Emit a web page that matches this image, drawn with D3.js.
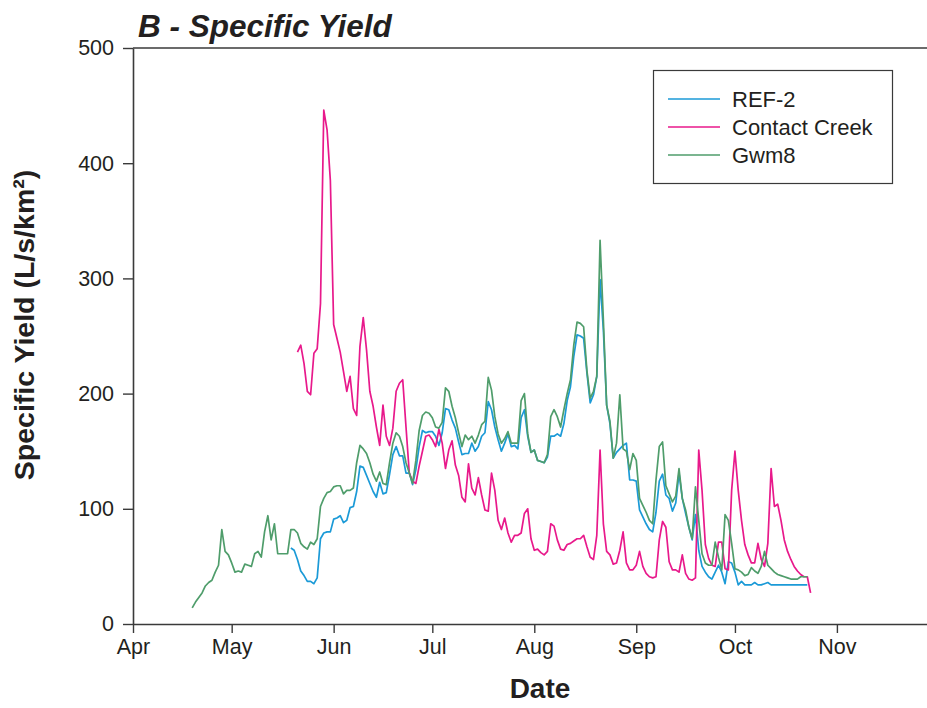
<!DOCTYPE html>
<html><head><meta charset="utf-8">
<script src="https://cdn.jsdelivr.net/npm/d3@7/dist/d3.min.js"></script>
<style>
body{margin:0;background:#fff}
svg{display:block;font-family:"Liberation Sans",Arial,Helvetica,sans-serif}
</style>
</head><body>
<svg id="chart" width="927" height="708"></svg>
<script>
// ---------- data ----------
const seriesNames = ["REF-2", "Contact Creek", "Gwm8"];
const seriesColors = ["#1b9ad7", "#e8198b", "#4f9d6b"];

const ref2Start = "2015-05-19";
const ref2Values = [
  66, 64, 56, 46, 42, 37, 37, 35, 40, 74, 79, 80, 80,
  91, 92, 94, 88, 90, 101, 102, 115, 137, 136, 129, 122, 115, 110, 123, 113, 114, 130, 147, 154, 146, 146, 131, 131, 121, 134, 154, 168, 166, 167,
  167, 163, 155, 166, 187, 186, 177, 170, 158, 147, 148, 148, 157, 150, 154, 163, 166, 193, 186, 171, 160, 150, 157, 165, 154, 155, 152, 179, 186, 163, 149,
  151, 142, 141, 140, 145, 163, 163, 165, 163, 174, 194, 206, 232, 251, 250, 248, 218, 192, 199, 215, 299, 255, 190, 174, 144, 149, 152, 155, 157, 125, 125,
  124, 99, 93, 87, 82, 80, 97, 124, 130, 112, 109, 98, 105, 131, 109, 96, 84, 73, 95, 64, 50, 45, 41, 39, 45, 51, 45, 35, 54, 53,
  45, 34, 37, 34, 34, 34, 36, 34, 34, 35, 36, 34, 34, 34, 34, 34, 34, 34, 34, 34, 34, 34, 34
];

const contactStart = "2015-05-21";
const contactValues = [
  236, 242, 226, 202, 199, 235, 239, 278, 446, 429, 385,
  260, 248, 236, 219, 202, 215, 187, 181, 241, 266, 238, 202, 189, 171, 155, 190, 163, 155, 170, 202, 209, 212, 171, 131, 124, 122, 137, 150, 163, 164,
  160, 154, 169, 157, 135, 151, 159, 138, 129, 110, 106, 139, 118, 112, 127, 112, 99, 98, 131, 116, 90, 82, 92, 79, 71, 77, 77, 79, 96, 100, 74,
  64, 65, 62, 60, 63, 87, 85, 73, 65, 64, 69, 70, 72, 74, 74, 77, 67, 58, 56, 77, 151, 87, 63, 60, 52, 53, 64, 80, 53, 47, 47,
  51, 63, 50, 44, 41, 40, 41, 73, 89, 84, 54, 47, 47, 45, 60, 44, 39, 38, 40, 151, 116, 69, 57, 51, 50, 71, 71, 48, 47, 116,
  150, 116, 90, 69, 60, 53, 53, 70, 56, 50, 70, 135, 102, 104, 90, 73, 63, 56, 50, 46, 43, 41, 41, 27
];

const gwm8Start = "2015-04-19";
const gwm8Values = [
  14, 19, 23, 27, 33, 36, 38, 45, 51, 82, 63, 60,
  53, 45, 46, 45, 52, 51, 50, 61, 63, 58, 80, 94, 73, 87, 61, 61, 61, 61, 82, 82, 79, 70, 67, 65, 71, 69, 74, 102, 109, 114, 115,
  119, 120, 120, 113, 116, 116, 118, 140, 155, 152, 148, 140, 130, 124, 132, 122, 121, 140, 157, 166, 163, 154, 140, 131, 122, 142, 168, 181, 184, 183,
  179, 171, 170, 175, 205, 202, 189, 179, 166, 154, 164, 160, 163, 157, 164, 173, 176, 214, 203, 180, 165, 157, 161, 167, 157, 157, 157, 194, 200, 165, 149,
  151, 142, 141, 140, 147, 180, 186, 180, 171, 186, 200, 212, 242, 262, 261, 258, 220, 196, 202, 215, 333, 264, 190, 176, 144, 157, 199, 152, 150, 134, 148,
  142, 109, 103, 97, 90, 87, 125, 154, 158, 120, 113, 106, 111, 135, 109, 99, 84, 74, 119, 90, 61, 53, 51, 51, 71, 58, 47, 95, 90, 70,
  48, 47, 45, 42, 43, 49, 46, 44, 50, 63, 51, 48, 45, 43, 42, 41, 40, 39, 39, 39, 41, 41, 41
];

const xDomain = ["2015-04-01", "2015-11-29"];
const xTickLabels = ["Apr", "May", "Jun", "Jul", "Aug", "Sep", "Oct", "Nov"];
const yTicks = [0, 100, 200, 300, 400, 500];

const titleText = "B - Specific Yield";
const xTitle = "Date";
const yTitle = "Specific Yield (L/s/km\u00B2)";

// ---------- build ----------
const parse = d3.utcParse("%Y-%m-%d");
function build(start, values) {
  const s = parse(start);
  return values.map((v, i) => ({ date: d3.utcDay.offset(s, i), value: v }));
}
const series = [
  { name: seriesNames[0], color: seriesColors[0], data: build(ref2Start, ref2Values) },
  { name: seriesNames[1], color: seriesColors[1], data: build(contactStart, contactValues) },
  { name: seriesNames[2], color: seriesColors[2], data: build(gwm8Start, gwm8Values) }
];

const svg = d3.select("#chart");
const plotLeft = 133, plotRight = 929, plotTop = 48, plotBottom = 624;
const textColor = "#231f20", axisColor = "#3a3a3a";

const x = d3.scaleUtc().domain(xDomain.map(parse)).range([plotLeft, plotRight]);
const y = d3.scaleLinear().domain([0, 500]).range([plotBottom, plotTop]);

const monthTicks = d3.utcMonth.range(parse(xDomain[0]), parse(xDomain[1]));

// x axis
const gx = svg.append("g").attr("transform", `translate(0,${plotBottom})`)
  .call(d3.axisBottom(x).tickValues(monthTicks)
    .tickFormat((d, i) => xTickLabels[i])
    .tickSize(9).tickPadding(6).tickSizeOuter(0));
// y axis
const gy = svg.append("g").attr("transform", `translate(${plotLeft},0)`)
  .call(d3.axisLeft(y).tickValues(yTicks).tickFormat(d3.format("d"))
    .tickSize(10).tickPadding(9).tickSizeOuter(0));

[gx, gy].forEach(g => {
  g.select(".domain").attr("stroke", axisColor).attr("stroke-width", 1.6);
  g.selectAll(".tick line").attr("stroke", axisColor).attr("stroke-width", 1.4);
  g.selectAll(".tick text").attr("fill", textColor)
    .style("font-size", "21.5px").style("font-family", '"Liberation Sans",Arial,sans-serif');
});

// top frame line
svg.append("line").attr("x1", plotLeft).attr("x2", plotRight)
  .attr("y1", y(500)).attr("y2", y(500))
  .attr("stroke", axisColor).attr("stroke-width", 1.6);

// lines
const line = d3.line().x(d => x(d.date)).y(d => y(d.value));
svg.append("g").selectAll("path").data(series).join("path")
  .attr("d", d => line(d.data))
  .attr("fill", "none")
  .attr("stroke", d => d.color)
  .attr("stroke-width", 1.7)
  .attr("stroke-linejoin", "round");

// title
svg.append("text").attr("x", 138).attr("y", 37)
  .attr("fill", textColor)
  .style("font-size", "31.5px").style("font-weight", "bold").style("font-style", "italic")
  .text(titleText);

// axis titles
svg.append("text").attr("x", 540).attr("y", 698)
  .attr("text-anchor", "middle").attr("fill", textColor)
  .style("font-size", "28px").style("font-weight", "bold")
  .text(xTitle);
svg.append("text").attr("transform", "translate(34,325) rotate(-90)")
  .attr("text-anchor", "middle").attr("fill", textColor)
  .style("font-size", "28.5px").style("font-weight", "bold")
  .text(yTitle);

// legend
const lg = svg.append("g");
lg.append("rect").attr("x", 653.5).attr("y", 70.5).attr("width", 239).attr("height", 113)
  .attr("fill", "#fff").attr("stroke", axisColor).attr("stroke-width", 1.2);
const items = lg.selectAll("g.item").data(series).join("g").attr("class", "item")
  .attr("transform", (d, i) => `translate(0,${99 + i * 28})`);
items.append("line").attr("x1", 668).attr("x2", 720)
  .attr("stroke", d => d.color).attr("stroke-width", 1.7);
items.append("text").attr("x", 732).attr("dy", "0.35em")
  .attr("fill", textColor).style("font-size", "22px")
  .text(d => d.name);
</script>
</body></html>
